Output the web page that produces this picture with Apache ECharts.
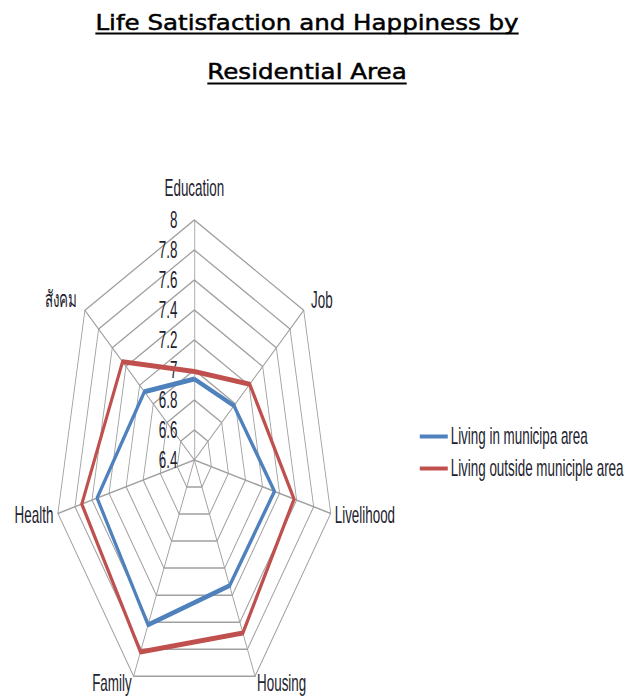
<!DOCTYPE html>
<html>
<head>
<meta charset="utf-8">
<script src="https://cdn.jsdelivr.net/npm/echarts@6/dist/echarts.min.js"></script>
<style>
html,body{margin:0;padding:0;background:#ffffff;overflow:hidden;width:639px;height:698px;}
#radar{position:absolute;left:0;top:0;width:1096px;height:698px;transform:scaleX(0.58303);transform-origin:0 0;}
#title{position:absolute;left:0;top:0;width:573px;height:100px;transform:scaleX(1.1152);transform-origin:0 0;}
</style>
</head>
<body>
<div id="radar"></div>
<div id="title"></div>
<script>
// ---------- data ----------
const categories = ['Education', 'Job', 'Livelihood', 'Housing', 'Family', 'Health', 'สังคม'];
const seriesNames = ['Living in municipa area', 'Living outside municiple area'];
const inMunicipal = [6.94, 6.98, 7.34, 7.33, 7.62, 7.54, 7.13];
const outsideMunicipal = [6.99, 7.21, 7.57, 7.68, 7.82, 7.72, 7.45];
const axisMin = 6.4;
const axisMax = 8;
const axisSplits = 8;
const titleLines = ['Life Satisfaction and Happiness by', 'Residential Area'];

// ---------- layout / style ----------
const nameGaps = [20, 16, 7, 8, 8, 8, 18];
const colors = ['#4F81BD', '#C0504D'];
const textColor = '#22222e';
const labelFont = 'Liberation Sans';

// ECharts places radar indicators counter-clockwise; reorder so they run clockwise.
const order = [0, 6, 5, 4, 3, 2, 1];

const indicator = order.map((i, k) => ({
  name: categories[i],
  min: axisMin,
  max: axisMax,
  nameGap: nameGaps[i],
  axisLabel: { show: k === 0 }
}));

const radarChart = echarts.init(document.getElementById('radar'), null, { renderer: 'svg' });
radarChart.setOption({
  animation: false,
  backgroundColor: '#ffffff',
  legend: {
    orient: 'vertical',
    left: 715,
    top: 420,
    itemWidth: 48,
    itemHeight: 4,
    itemGap: 9,
    icon: 'rect',
    textStyle: { fontSize: 23, color: textColor, fontFamily: labelFont },
    data: seriesNames
  },
  radar: {
    center: [333.3, 460],
    radius: 240,
    startAngle: 90,
    shape: 'polygon',
    splitNumber: axisSplits,
    nameGap: 10,
    axisName: { color: textColor, fontSize: 23, fontFamily: labelFont },
    axisLine: { lineStyle: { color: '#A0A0A0', width: 1.5 } },
    splitLine: { lineStyle: { color: '#A0A0A0', width: 1.5 } },
    splitArea: { show: false },
    axisTick: { show: false },
    axisLabel: {
      show: false,
      color: textColor,
      fontSize: 23,
      fontFamily: labelFont,
      margin: 29,
      formatter: v => String(+(+v).toFixed(1))
    },
    indicator: indicator
  },
  series: [{
    type: 'radar',
    symbol: 'none',
    data: [
      {
        name: seriesNames[0],
        value: order.map(i => inMunicipal[i]),
        lineStyle: { color: colors[0], width: 5 },
        itemStyle: { color: colors[0] }
      },
      {
        name: seriesNames[1],
        value: order.map(i => outsideMunicipal[i]),
        lineStyle: { color: colors[1], width: 5 },
        itemStyle: { color: colors[1] }
      }
    ]
  }]
});

// ---------- title ----------
const titleFont = '22px "DejaVu Sans"';
const meas = document.createElement('canvas').getContext('2d');
meas.font = titleFont;
const w1 = meas.measureText(titleLines[0]).width;
const w2 = meas.measureText(titleLines[1]).width;
const tcx = 275.3;
const titleChart = echarts.init(document.getElementById('title'), null, { renderer: 'svg' });
titleChart.setOption({
  animation: false,
  graphic: [
    { type: 'text', x: tcx, y: 21.5, style: { text: titleLines[0], font: titleFont, fill: '#000', stroke: '#000', lineWidth: 0.5, align: 'center', verticalAlign: 'middle' } },
    { type: 'text', x: tcx, y: 71, style: { text: titleLines[1], font: titleFont, fill: '#000', stroke: '#000', lineWidth: 0.5, align: 'center', verticalAlign: 'middle' } },
    { type: 'line', shape: { x1: tcx - w1 / 2, y1: 33.5, x2: tcx + w1 / 2, y2: 33.5 }, style: { stroke: '#000', lineWidth: 2 } },
    { type: 'line', shape: { x1: tcx - w2 / 2, y1: 83.5, x2: tcx + w2 / 2, y2: 83.5 }, style: { stroke: '#000', lineWidth: 2 } }
  ]
});
</script>
</body>
</html>
